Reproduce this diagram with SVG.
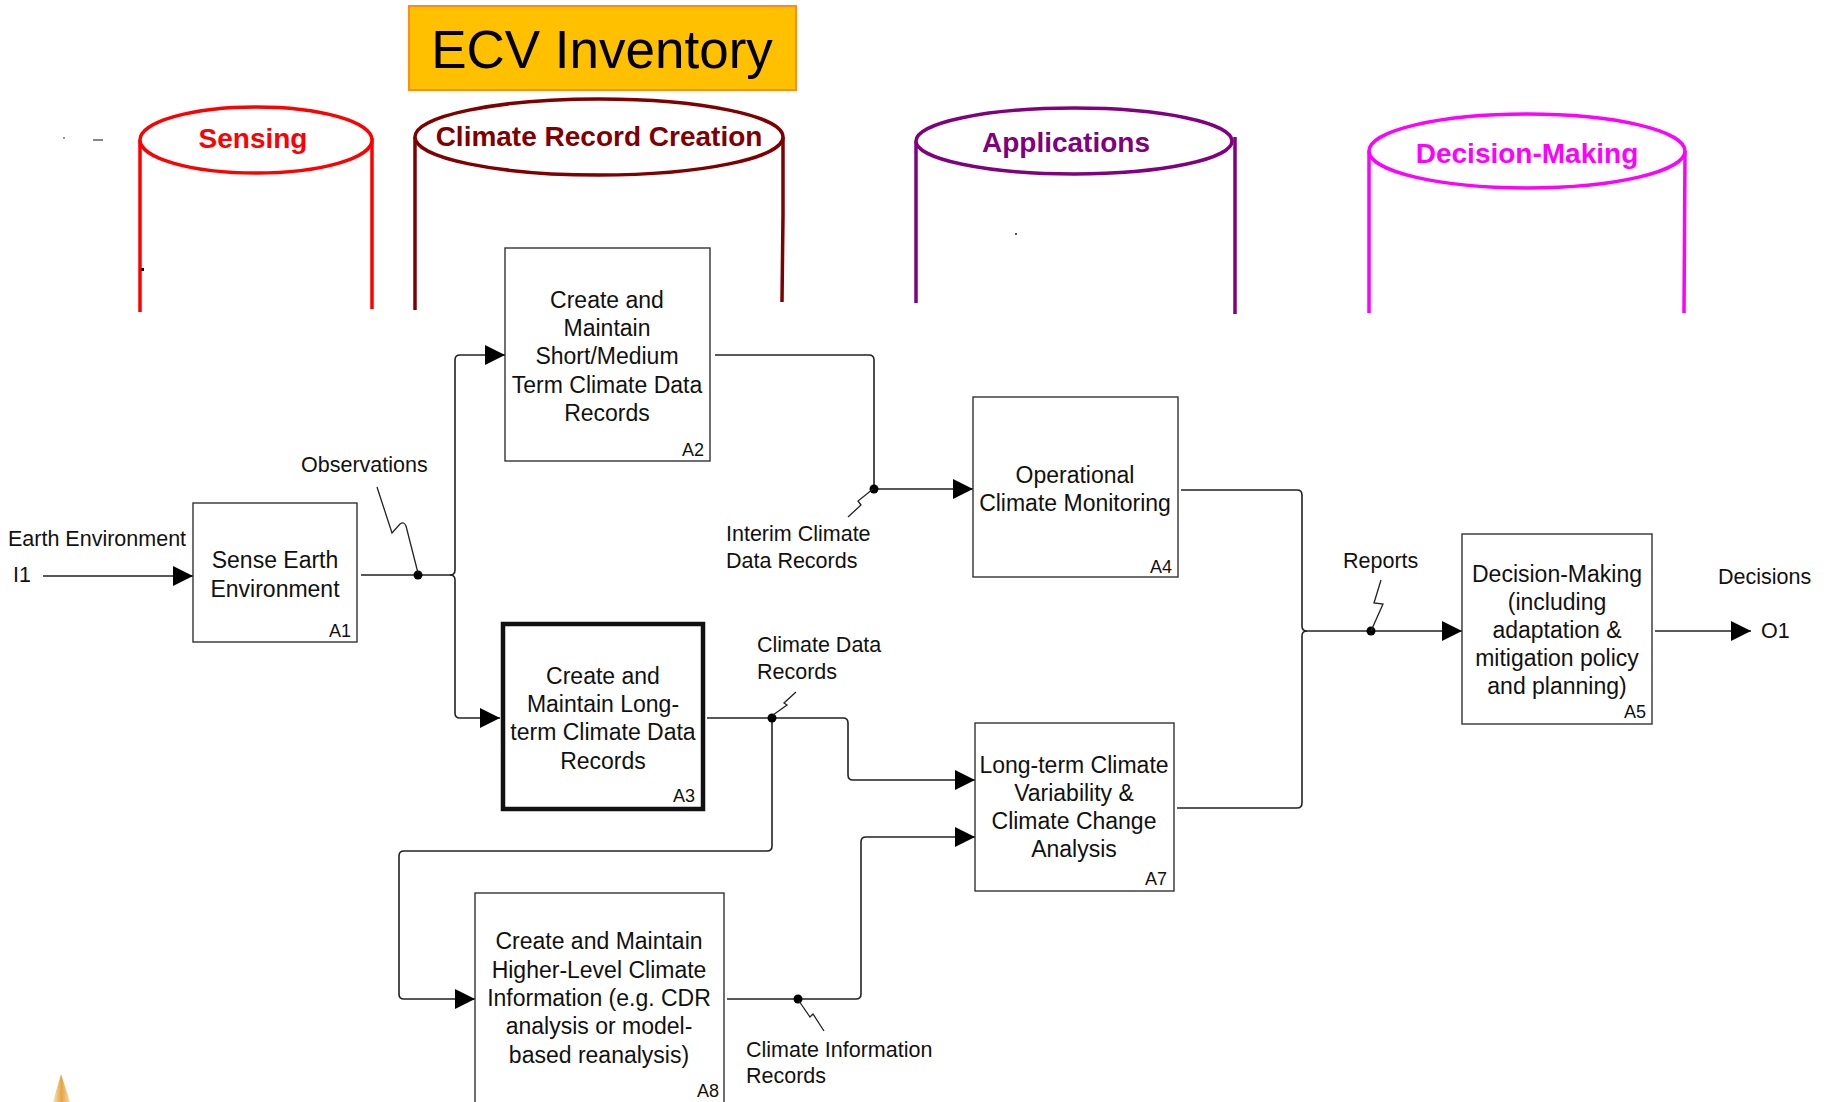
<svg xmlns="http://www.w3.org/2000/svg" width="1833" height="1102" viewBox="0 0 1833 1102">
  <style>
    .box { fill: #ffffff; stroke: #333333; stroke-width: 1.4; }
    .box-main { fill: #ffffff; stroke: #111111; stroke-width: 4.5; }
    .node-text { font-family: "Liberation Sans", Arial, sans-serif; font-size: 23px; fill: #111111; text-anchor: middle; }
    .node-id { font-family: "Liberation Sans", Arial, sans-serif; font-size: 18px; fill: #111111; text-anchor: end; }
    .label { font-family: "Liberation Sans", Arial, sans-serif; font-size: 21.5px; fill: #111111; }
    .lane-title { font-family: "Liberation Sans", Arial, sans-serif; font-weight: bold; font-size: 28px; text-anchor: middle; }
    .flow { fill: none; stroke: #222222; stroke-width: 1.6; }
    .squiggle { fill: none; stroke: #222222; stroke-width: 1.3; }
    .dot { fill: #000000; }
  </style>
  <defs>
    <marker id="arrow" markerUnits="userSpaceOnUse" markerWidth="20" markerHeight="20" refX="20" refY="10" orient="auto">
      <path d="M0,0 L20,10 L0,20 z" fill="#000000"/>
    </marker>
    <linearGradient id="spike" x1="0" y1="0" x2="1" y2="0">
      <stop offset="0" stop-color="#f8e4c0"/>
      <stop offset="0.5" stop-color="#e6a542"/>
      <stop offset="1" stop-color="#f6dcae"/>
    </linearGradient>
  </defs>

  <rect width="1833" height="1102" fill="#ffffff"/>

  <!-- Title banner -->
  <g id="title">
    <rect x="409" y="6" width="387" height="84" fill="#FFC000" stroke="#FF8C1A" stroke-width="2"/>
    <text x="602" y="68" font-family="Liberation Sans, Arial, sans-serif" font-size="53" text-anchor="middle" fill="#000000">ECV Inventory</text>
  </g>

  <!-- Swim-lane cylinders -->
  <g id="lane-sensing" fill="none" stroke="#FF0000" stroke-width="3.5">
    <line x1="140" y1="140" x2="140" y2="312"/>
    <line x1="372" y1="138" x2="372" y2="309"/>
    <ellipse cx="256" cy="140" rx="116" ry="33" fill="#ffffff"/>
    <text class="lane-title" x="253" y="148" fill="#FF0000" stroke="none">Sensing</text>
  </g>
  <g id="lane-climate-record" fill="none" stroke="#800000" stroke-width="3.5">
    <line x1="415" y1="137" x2="415" y2="310"/>
    <polyline points="783,137 783,215 782,302"/>
    <ellipse cx="599" cy="137" rx="184" ry="38" fill="#ffffff"/>
    <text class="lane-title" x="599" y="146" fill="#800000" stroke="none">Climate Record Creation</text>
  </g>
  <g id="lane-applications" fill="none" stroke="#800080" stroke-width="3.5">
    <line x1="916" y1="141" x2="916" y2="303"/>
    <line x1="1235" y1="137" x2="1235" y2="314"/>
    <ellipse cx="1074" cy="141" rx="158" ry="33" fill="#ffffff"/>
    <text class="lane-title" x="1066" y="152" fill="#800080" stroke="none">Applications</text>
  </g>
  <g id="lane-decision" fill="none" stroke="#FF00FF" stroke-width="3.5">
    <line x1="1369" y1="151" x2="1369" y2="313"/>
    <line x1="1685" y1="151" x2="1684" y2="313"/>
    <ellipse cx="1527" cy="151" rx="158" ry="37" fill="#ffffff"/>
    <text class="lane-title" x="1527" y="163" fill="#FF00FF" stroke="none" font-size="26.5">Decision-Making</text>
  </g>

  <!-- Stray marks -->
  <g id="marks">
    <rect x="63" y="137" width="2" height="2" fill="#999999"/>
    <rect x="93" y="139" width="10" height="2" fill="#888888"/>
    <rect x="141" y="268" width="3" height="3" fill="#000000"/>
    <rect x="1015" y="233" width="2" height="2" fill="#555555"/>
    <polygon points="61,1074 53,1102 70,1102" fill="url(#spike)"/>
  </g>

  <!-- Connectors -->
  <g id="connectors">
    <path class="flow" d="M43,576 H193" marker-end="url(#arrow)"/>
    <path class="flow" stroke-width="2" d="M361,575 H450 Q455,575 455,570 V360 Q455,355 460,355 H505" marker-end="url(#arrow)"/>
    <path class="flow" d="M450,575 Q455,575 455,580 V713 Q455,718 460,718 H500" marker-end="url(#arrow)"/>
    <path class="flow" d="M715,355 H869 Q874,355 874,360 V484 Q874,489 879,489 H973" marker-end="url(#arrow)"/>
    <path class="flow" d="M707,718 H843 Q848,718 848,723 V775 Q848,780 853,780 H975" marker-end="url(#arrow)"/>
    <path class="flow" d="M772,718 V846 Q772,851 767,851 H404 Q399,851 399,856 V994 Q399,999 404,999 H475" marker-end="url(#arrow)"/>
    <path class="flow" d="M727,999 H856 Q861,999 861,994 V842 Q861,837 866,837 H975" marker-end="url(#arrow)"/>
    <path class="flow" d="M1181,490 H1297 Q1302,490 1302,495 V626 Q1302,631 1307,631 H1462" marker-end="url(#arrow)"/>
    <path class="flow" d="M1177,808 H1297 Q1302,808 1302,803 V636 Q1302,631 1307,631"/>
    <path class="flow" d="M1655,631 H1751" marker-end="url(#arrow)"/>

    <circle class="dot" cx="418" cy="575" r="4.5"/>
    <circle class="dot" cx="874" cy="489" r="4.5"/>
    <circle class="dot" cx="772" cy="718" r="4.5"/>
    <circle class="dot" cx="1371" cy="631" r="4.5"/>
    <circle class="dot" cx="798" cy="999" r="4.5"/>

    <path class="squiggle" d="M377,487 L392,533 L400,524 Q404,521 406,526 L418,573"/>
    <path class="squiggle" d="M873,489 L858,501 L861,505 L848,517"/>
    <path class="squiggle" d="M773,715 L787,705 L784,703 L796,692"/>
    <path class="squiggle" d="M1371,631 L1383,604 L1374,603 L1381,580"/>
    <path class="squiggle" d="M799,1001 L810,1017 L813,1014 L824,1031"/>

    <text class="label" x="8" y="546">Earth Environment</text>
    <text class="label" x="13" y="582">I1</text>
    <text class="label" x="301" y="472">Observations</text>
    <text class="label" x="726" y="541">Interim Climate</text>
    <text class="label" x="726" y="568">Data Records</text>
    <text class="label" x="757" y="652">Climate Data</text>
    <text class="label" x="757" y="679">Records</text>
    <text class="label" x="1343" y="568">Reports</text>
    <text class="label" x="1718" y="584" font-size="22.5">Decisions</text>
    <text class="label" x="1761" y="638" font-size="22.5">O1</text>
    <text class="label" x="746" y="1057">Climate Information</text>
    <text class="label" x="746" y="1083">Records</text>
  </g>

  <!-- Activity boxes -->
  <g id="A1">
    <rect class="box" x="193" y="503" width="164" height="139"/>
    <text class="node-text" x="275" y="568">Sense Earth</text>
    <text class="node-text" x="275" y="597">Environment</text>
    <text class="node-id" x="351" y="637">A1</text>
  </g>
  <g id="A2">
    <rect class="box" x="505" y="248" width="205" height="213"/>
    <text class="node-text" x="607" y="308">Create and</text>
    <text class="node-text" x="607" y="336">Maintain</text>
    <text class="node-text" x="607" y="364">Short/Medium</text>
    <text class="node-text" x="607" y="393">Term Climate Data</text>
    <text class="node-text" x="607" y="421">Records</text>
    <text class="node-id" x="704" y="456">A2</text>
  </g>
  <g id="A3">
    <rect class="box-main" x="503" y="624" width="200" height="185"/>
    <text class="node-text" x="603" y="684">Create and</text>
    <text class="node-text" x="603" y="712">Maintain Long-</text>
    <text class="node-text" x="603" y="740">term Climate Data</text>
    <text class="node-text" x="603" y="769">Records</text>
    <text class="node-id" x="695" y="802">A3</text>
  </g>
  <g id="A4">
    <rect class="box" x="973" y="397" width="205" height="180"/>
    <text class="node-text" x="1075" y="483">Operational</text>
    <text class="node-text" x="1075" y="511">Climate Monitoring</text>
    <text class="node-id" x="1172" y="573">A4</text>
  </g>
  <g id="A5">
    <rect class="box" x="1462" y="534" width="190" height="190"/>
    <text class="node-text" x="1557" y="582">Decision-Making</text>
    <text class="node-text" x="1557" y="610">(including</text>
    <text class="node-text" x="1557" y="638">adaptation &amp;</text>
    <text class="node-text" x="1557" y="666">mitigation policy</text>
    <text class="node-text" x="1557" y="694">and planning)</text>
    <text class="node-id" x="1646" y="718">A5</text>
  </g>
  <g id="A7">
    <rect class="box" x="975" y="723" width="199" height="168"/>
    <text class="node-text" x="1074" y="773">Long-term Climate</text>
    <text class="node-text" x="1074" y="801">Variability &amp;</text>
    <text class="node-text" x="1074" y="829">Climate Change</text>
    <text class="node-text" x="1074" y="857">Analysis</text>
    <text class="node-id" x="1167" y="885">A7</text>
  </g>
  <g id="A8">
    <rect class="box" x="475" y="893" width="249" height="212"/>
    <text class="node-text" x="599" y="949">Create and Maintain</text>
    <text class="node-text" x="599" y="978">Higher-Level Climate</text>
    <text class="node-text" x="599" y="1006">Information (e.g. CDR</text>
    <text class="node-text" x="599" y="1034">analysis or model-</text>
    <text class="node-text" x="599" y="1063">based reanalysis)</text>
    <text class="node-id" x="719" y="1097">A8</text>
  </g>
</svg>
